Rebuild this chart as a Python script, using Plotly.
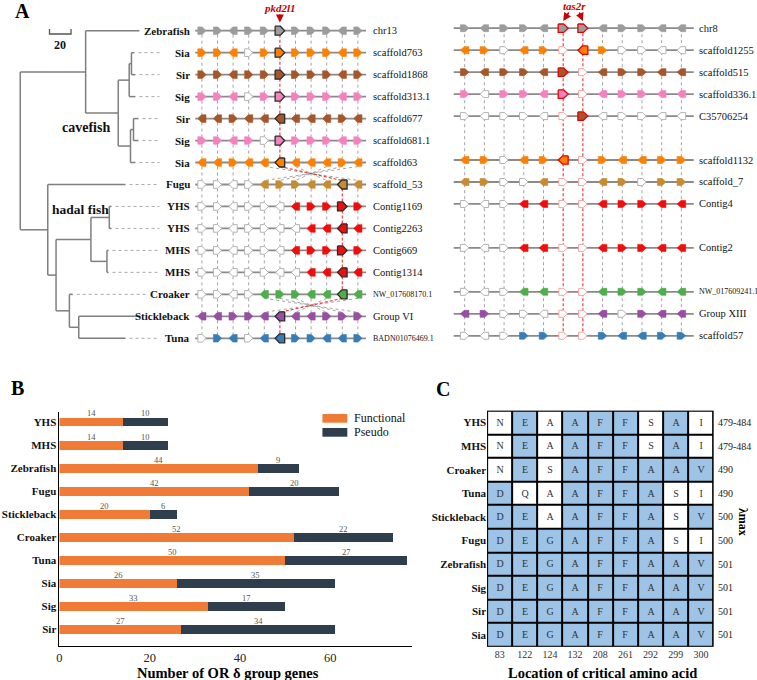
import plotly.graph_objects as go

# ======================= DATA =======================
# ---- Panel A: synteny of pkd2l1 / tas2r ----
species = ["Zebrafish", "Sia", "Sir", "Sig", "Sir", "Sig", "Sia", "Fugu",
           "YHS", "YHS", "MHS", "MHS", "Croaker", "Stickleback", "Tuna"]
left_scaffolds = ["chr13", "scaffold763", "scaffold1868", "scaffold313.1", "scaffold677",
                  "scaffold681.1", "scaffold63", "scaffold_53", "Contig1169", "Contig2263",
                  "Contig669", "Contig1314", "NW_017608170.1", "Group VI", "BADN01076469.1"]
right_scaffolds = ["chr8", "scaffold1255", "scaffold515", "scaffold336.1", "C35706254", "",
                   "scaffold1132", "scaffold_7", "Contig4", "", "Contig2", "",
                   "NW_017609241.1", "Group XIII", "scaffold57"]
row_palette = ["gray", "orange", "brown", "pink", "brown", "pink", "orange", "gold",
               "red", "red", "red", "red", "green", "purple", "blue"]
# gene tokens: state (f filled, w empty, h highlighted, p pale empty) + direction (R/L)
left_genes = [
    "fR fR fL fR fR hR fR fR fR fL fR",
    "fR fR fL wR fR hR fR fR fR fL fR",
    "fR fR fL fR fR hR fR fR fR fL fR",
    "fR fR fL wR fR hR fR fR fR fL fR",
    "fL fL fR fL fL hL fL fL fL fR fL",
    "fR fR fL fR wR hR fR fR fR fL fR",
    "fL fL fR fL fL hL fL fL fL fR fL",
    "wR wR wL wR fL fR fR fL fL hL fL",
    "wR wR wL wR wR wL fL fR fR hR fR",
    "wR wR wL wR wR wL wL fL fL hL fL",
    "wR wR wL wR wR wL fL fR fR hR fR",
    "wR wR wL wR wR wL wL fL fL hL fL",
    "wR wR wL wR fL fR fR fL fL hL fL",
    "fL fL fR fR fL hL fL fL fR fR fR",
    "wR fR fL wR fL hL fR fR fL fL fR",
]
right_genes = [
    "fR fL fR fR fL hR hR fL fR fR fL fL",
    "fL fR wR fL fR pR hL fR wR wR wL wL",
    "fR fL fR fR fL hR pR fL fR fR fL fL",
    "fR wL fR fR fL hR pR fL fR fR fL fL",
    "wR wL wR wR wL pR hR wL wR wR wL wL",
    None,
    "fL fR wR fL fR hL pR fR fL fL fR fR",
    "fL fR wR wR fL pR pR fL fR wR fR fR",
    "wR wL wR fL fL pR pR fL fR fR fL fL",
    None,
    "wR wL wR fL fL pR pR fL fR fR fL fL",
    None,
    "wR wL wR fL fL pR pR fL fR fR fL fL",
    "fL fR wR wR wL pR pR fL wR fR fL fL",
    "wR wL wR fR fR pR pR fR fL fL fR fR",
]
# inverted blocks between a row and the next one (gene index -> gene index)
left_links = {6: [0, 1, 2, 3, 10, 9, 8, 7, 6, 5, 4],
              12: [0, 1, 2, 3, 10, 9, 8, 7, 6, 5, 4]}
# tree: (depth in branch-length units, children | leaf row)
tree = (0, [
    (60.8, [(110.8, 0),
            (91.1, [(101.3, [(103.4, [(106.2, 1), (107.1, 2)]), (107.1, 3)]),
                    (102.5, [(105.3, [(109.9, 4), (109.9, 5)]), (107.1, 6)])])]),
    (25.6, [(97.9, 7),
            (33.3, [(65.7, [(82.8, [(84.9, 8), (84.9, 9)]),
                            (80.6, [(82.1, 10), (82.1, 11)])]),
                    (45.7, [(48.8, 12), (54.4, [(111.8, 13), (97.9, 14)])])])]),
])
scale_bar_units = 20

# ---- Panel B ----
bar_species = ["YHS", "MHS", "Zebrafish", "Fugu", "Stickleback", "Croaker", "Tuna", "Sia", "Sig", "Sir"]
functional = [14, 14, 44, 42, 20, 52, 50, 26, 33, 27]
pseudo = [10, 10, 9, 20, 6, 22, 27, 35, 17, 34]
bar_ticks = [0, 20, 40, 60]

# ---- Panel C ----
opsin_species = ["YHS", "MHS", "Croaker", "Tuna", "Stickleback", "Fugu", "Zebrafish", "Sig", "Sir", "Sia"]
sites = ["83", "122", "124", "132", "208", "261", "292", "299", "300"]
residues = ["NEAAFFSAI", "NEAAFFSAI", "NESAFFAAV", "DQAAFFASI", "DEAAFFASV",
            "DEGAFFASI", "DEGAFFAAV", "DEGAFFAAV", "DEGAFFAAV", "DEGAFFAAV"]
lambda_max = ["479-484", "479-484", "490", "490", "500", "500", "501", "501", "501", "501"]

# ======================= STYLE =======================
FONT = "Liberation Serif"
COL = {"gray": "#9C9C9C", "orange": "#FF8000", "brown": "#A65628", "pink": "#F781BF",
       "gold": "#C98B2F", "red": "#F20D0D", "green": "#4DAF4A", "purple": "#984EA3",
       "blue": "#377EB8"}
ORANGE, DARK, CELLBLUE = "#EF7B36", "#2E3E4D", "#9DC3E6"
ROW_Y0, ROW_DY = 30.7, 21.97
LX0, LDX, L_LINE = 199.7, 15.66, (193.0, 364.5)
RX0, RDX, R_LINE, RY_OFF = 463.5, 19.78, (452.5, 693.5), -2.5
TREE_X0, TREE_PX = 17.3, 1.08
SPEC_X = 190

def row_y(i):
    return ROW_Y0 + i * ROW_DY

fig = go.Figure()
A = dict(xaxis="x3", yaxis="y3", hoverinfo="skip", showlegend=False)
ann = []

def add_lines(xs, ys, color, width, dash="solid"):
    fig.add_trace(go.Scatter(x=xs, y=ys, mode="lines",
                             line=dict(color=color, width=width, dash=dash), **A))

def text(x, y, s, size, xanchor="center", color="#111", ref=("x3", "y3"), **kw):
    ann.append(dict(x=x, y=y, xref=ref[0], yref=ref[1], text=s, showarrow=False,
                    xanchor=xanchor, yanchor="middle",
                    font=dict(family=FONT, size=size, color=color), **kw))

# ---------------- Panel A: tree ----------------
tx, ty, leaf_end = [], [], {}

def walk(node):
    depth, kids = node
    x = TREE_X0 + depth * TREE_PX
    if isinstance(kids, int):
        leaf_end[kids] = x
        return x, row_y(kids)
    pts = [walk(k) for k in kids]
    ys = [p[1] for p in pts]
    tx.extend([x, x, None]); ty.extend([min(ys), max(ys), None])
    for cx, cy in pts:
        tx.extend([x, cx, None]); ty.extend([cy, cy, None])
    return x, (ys[0] + ys[-1]) / 2

walk(tree)
add_lines(tx, ty, "#7F7F7F", 1.5)

dxs, dys = [], []
for r, xe in leaf_end.items():
    end = min(157, SPEC_X - 0.5 * 11 * len(species[r]) - 6)
    if end - xe > 10:
        dxs += [xe + 4, end, None]; dys += [row_y(r), row_y(r), None]
add_lines(dxs, dys, "#A8A8A8", 1, "dot")

# scale bar
sb = scale_bar_units * TREE_PX
add_lines([46.7, 46.7, 46.7 + sb, 46.7 + sb], [29, 34, 34, 29], "#555", 1.3)
text(46.7 + sb / 2, 45, "<b>%d</b>" % scale_bar_units, 12)
text(83, 127, "<b>cavefish</b>", 14)
text(77.5, 209, "<b>hadal fish</b>", 13.5)

# ---------------- Panel A: tracks ----------------
tlx, tly = [], []
for r in range(len(species)):
    tlx += [L_LINE[0], L_LINE[1], None]; tly += [row_y(r)] * 2 + [None]
    if right_genes[r]:
        tlx += [R_LINE[0], R_LINE[1], None]; tly += [row_y(r) + RY_OFF] * 2 + [None]

gx, gy, rx, ry = [], [], [], []
toks = [g.split() for g in left_genes]
for r in range(len(species) - 1):
    link = left_links.get(r, list(range(len(toks[r]))))
    for i, j in enumerate(link):
        seg = ([LX0 + i * LDX, LX0 + j * LDX, None], [row_y(r) + 4, row_y(r + 1) - 4, None])
        if toks[r][i][0] == "h":
            rx += seg[0]; ry += seg[1]
        else:
            gx += seg[0]; gy += seg[1]
rrows = [i for i, g in enumerate(right_genes) if g]
rtoks = {i: right_genes[i].split() for i in rrows}
for c in range(12):
    red = any(rtoks[i][c][0] == "h" for i in rrows)
    seg = ([RX0 + c * RDX] * 2 + [None], [row_y(rrows[0]) + RY_OFF, row_y(rrows[-1]) + RY_OFF, None])
    if red:
        rx += seg[0]; ry += seg[1]
    else:
        gx += seg[0]; gy += seg[1]
add_lines(gx, gy, "#8C8C8C", 0.8, "dot")
add_lines(rx, ry, "#F03030", 1.1, "3px,2px")
add_lines(tlx, tly, "#8A8A8A", 1.8)

groups = {}

def gene(xc, yc, tok, color, side):
    st, d = tok[0], tok[1]
    w, h = (8.2, 7.6) if side == "L" else (8.6, 7.0)
    if st == "h":
        w, h = w + 1.4, h + 1.4
        style = (COL[color], "#2A2A2A" if side == "L" else "#E80000", 1.3)
    elif st == "f":
        style = (COL[color], COL[color], 0.6)
    elif st == "w":
        style = ("#FFFFFF", "#B3B3B3", 1.0)
    else:
        style = ("#FFFFFF", "#F6A5A5", 1.0)
    tip = w * 0.45
    if d == "R":
        xs = [xc - w / 2, xc + w / 2 - tip, xc + w / 2, xc + w / 2 - tip, xc - w / 2, xc - w / 2]
    else:
        xs = [xc + w / 2, xc - w / 2 + tip, xc - w / 2, xc - w / 2 + tip, xc + w / 2, xc + w / 2]
    ys = [yc - h / 2, yc - h / 2, yc, yc + h / 2, yc + h / 2, yc - h / 2]
    g = groups.setdefault(style, ([], []))
    g[0].extend(xs + [None]); g[1].extend(ys + [None])

for r in range(len(species)):
    for i, t in enumerate(toks[r]):
        gene(LX0 + i * LDX, row_y(r), t, row_palette[r], "L")
    if right_genes[r]:
        for i, t in enumerate(rtoks[r]):
            gene(RX0 + i * RDX, row_y(r) + RY_OFF, t, row_palette[r], "R")
for (fc, lc, lw), (xs, ys) in groups.items():
    fig.add_trace(go.Scatter(x=xs, y=ys, mode="lines", fill="toself", fillcolor=fc,
                             line=dict(color=lc, width=lw), **A))

for r in range(len(species)):
    text(SPEC_X, row_y(r), "<b>%s</b>" % species[r], 11, "right")
    s = left_scaffolds[r]
    text(369, row_y(r), s, 8 if s.startswith(("NW", "BADN")) else 10.5, "left")
    s = right_scaffolds[r]
    if s:
        text(697, row_y(r) + RY_OFF, s, 8 if s.startswith("NW") else 10.5, "left")

red_txt = "#C80000"
text(278, 8.3, "<i><b>pkd2l1</b></i>", 11, color=red_txt)
ann.append(dict(x=278, y=22.5, ax=278, ay=13, xref="x3", yref="y3", axref="x3", ayref="y3",
                text="", showarrow=True, arrowhead=2, arrowsize=1, arrowwidth=1.6, arrowcolor=red_txt))
text(573.5, 5.5, "<i><b>tas2r</b></i>", 11, color=red_txt)
for gx_, sx in ((RX0 + 5 * RDX, 569), (RX0 + 6 * RDX, 578)):
    ann.append(dict(x=gx_, y=21, ax=sx, ay=11, xref="x3", yref="y3", axref="x3", ayref="y3",
                    text="", showarrow=True, arrowhead=2, arrowsize=1, arrowwidth=1.6, arrowcolor=red_txt))

# panel letters
text(20, 11, "<b>A</b>", 20, color="#000")
text(15, 387.5, "<b>B</b>", 20, color="#000")
text(442, 388.5, "<b>C</b>", 20, color="#000")

# ---------------- Panel B ----------------
idx = list(range(len(bar_species)))
fig.add_trace(go.Bar(y=idx, x=functional, orientation="h", marker=dict(color=ORANGE, line_width=0),
                     width=0.39, xaxis="x", yaxis="y", showlegend=False, hoverinfo="skip"))
fig.add_trace(go.Bar(y=idx, x=pseudo, orientation="h", marker=dict(color=DARK, line_width=0),
                     width=0.39, xaxis="x", yaxis="y", showlegend=False, hoverinfo="skip"))
for i in idx:
    for base, v in ((0, functional[i]), (functional[i], pseudo[i])):
        ann.append(dict(x=base + v / 2, y=i, xref="x", yref="y", text=str(v), showarrow=False,
                        yshift=8.5, font=dict(family=FONT, size=8.5, color="#555")))
text(225.8, 672.5, "<b>Number of OR δ group genes</b>", 14.5, color="#000")
# legend
shapes = [
    dict(type="rect", xref="x3", yref="y3", x0=320.7, x1=345.7, y0=414, y1=422.7,
         fillcolor=ORANGE, line_width=0),
    dict(type="rect", xref="x3", yref="y3", x0=320.7, x1=345.7, y0=428, y1=436.7,
         fillcolor=DARK, line_width=0),
]
text(350, 418.3, "Functional", 12, "left")
text(350, 432.3, "Pseudo", 12, "left")

# ---------------- Panel C ----------------
ref = residues[opsin_species.index("Zebrafish")]
z = [[1 if a == ref[k] else 0 for k, a in enumerate(row)] for row in residues]
txt = [list(row) for row in residues]
fig.add_trace(go.Heatmap(z=z, x=list(range(len(sites))), y=list(range(len(opsin_species))),
                         text=txt, texttemplate="%{text}",
                         textfont=dict(family=FONT, size=10, color="#333"),
                         colorscale=[[0, "#FFFFFF"], [1, CELLBLUE]], zmin=0, zmax=1,
                         showscale=False, xgap=2, ygap=2, xaxis="x2", yaxis="y2",
                         hoverinfo="skip"))
shapes.append(dict(type="rect", xref="x2", yref="y2", x0=-0.52, x1=len(sites) - 0.48,
                   y0=-0.52, y1=len(opsin_species) - 0.48, fillcolor="#000",
                   line=dict(color="#000", width=1.5), layer="below"))
for i, lm in enumerate(lambda_max):
    ann.append(dict(x=len(sites) - 0.5, y=i, xref="x2", yref="y2", text=lm, showarrow=False,
                    xanchor="left", xshift=3, font=dict(family=FONT, size=10, color="#222")))
text(743, 522, "<b>λmax</b>", 12, color="#000", textangle=90)
text(601.7, 673.3, "<b>Location of critical amino acid</b>", 14.5, color="#000")

# ======================= LAYOUT =======================
W, H = 757, 680
fig.update_layout(
    width=W, height=H, margin=dict(l=0, r=0, t=0, b=0),
    paper_bgcolor="white", plot_bgcolor="rgba(0,0,0,0)",
    barmode="stack", showlegend=False,
    font=dict(family=FONT, color="#111"),
    annotations=ann, shapes=shapes,
    xaxis3=dict(domain=[0, 1], range=[0, W], visible=False, fixedrange=True),
    yaxis3=dict(domain=[0, 1], range=[H, 0], visible=False, fixedrange=True),
    xaxis=dict(domain=[56.7 / W, 411 / W], range=[0, 78.2], showline=True, linecolor="#000",
               linewidth=1, showgrid=False, zeroline=False, ticks="", tickvals=bar_ticks,
               tickfont=dict(family=FONT, size=12.5, color="#222"), anchor="y"),
    yaxis=dict(domain=[1 - 646 / H, 1 - 411.7 / H], range=[9.727, -0.447], showline=True,
               linecolor="#000", linewidth=1, showgrid=False, zeroline=False, ticks="",
               tickvals=idx, ticktext=["<b>%s</b>" % s for s in bar_species],
               tickfont=dict(family=FONT, size=11, color="#111"), anchor="x"),
    xaxis2=dict(domain=[486 / W, 713.3 / W], range=[-0.5, len(sites) - 0.5], showgrid=False,
                zeroline=False, ticks="", tickvals=list(range(len(sites))), ticktext=sites,
                tickfont=dict(family=FONT, size=10, color="#333"), anchor="y2"),
    yaxis2=dict(domain=[1 - 646.7 / H, 1 - 410.7 / H], range=[len(opsin_species) - 0.5, -0.5],
                showgrid=False, zeroline=False, ticks="", tickvals=list(range(len(opsin_species))),
                ticktext=["<b>%s</b>" % s for s in opsin_species],
                tickfont=dict(family=FONT, size=11, color="#111"), anchor="x2"),
)
fig.write_html("out.html", config={"displayModeBar": False},
               post_script="document.body.style.margin='0';document.body.style.padding='0';")
